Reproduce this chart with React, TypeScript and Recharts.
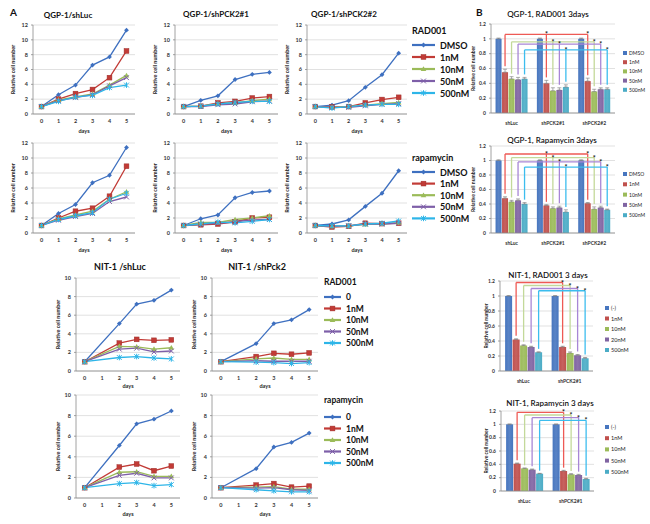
import React from "react";
import { LineChart, Line, BarChart, Bar, XAxis, YAxis, CartesianGrid, ErrorBar } from "recharts";

const FONT = "Lato, 'Open Sans', 'Liberation Sans', sans-serif";

const days = ["0", "1", "2", "3", "4", "5"];
const qgpDoses = ["DMSO", "1nM", "10nM", "50nM", "500nM"];
const nitDoses = ["0", "1nM", "10nM", "50nM", "500nM"];
const qgpTicks = [0, 2, 4, 6, 8, 10, 12];
const nitTicks = [0, 2, 4, 6, 8, 10];
const barTicks = [0, 0.2, 0.4, 0.6, 0.8, 1, 1.2];

// QGP-1 growth curves, rows = DMSO, 1nM, 10nM, 50nM, 500nM
const qgpLucRad = [
  [1, 2.6, 3.9, 6.6, 7.7, 11.3],
  [1, 2.0, 2.75, 3.3, 4.9, 8.5],
  [1, 1.9, 2.3, 2.7, 3.9, 5.2],
  [1, 1.8, 2.2, 2.6, 3.8, 4.9],
  [1, 1.7, 2.3, 2.5, 3.55, 3.9],
];
const qgpPck1Rad = [
  [1, 1.85, 2.45, 4.65, 5.35, 5.6],
  [1, 1.05, 1.5, 1.7, 2.15, 2.35],
  [1, 1.05, 1.35, 1.5, 1.8, 2.0],
  [1, 1.0, 1.25, 1.35, 1.65, 1.75],
  [1, 1.05, 1.35, 1.55, 1.7, 1.7],
];
const qgpPck2Rad = [
  [1, 1.2, 1.8, 3.6, 5.3, 8.2],
  [1, 0.95, 1.0, 1.5, 1.95, 2.25],
  [1, 0.9, 1.0, 1.2, 1.4, 1.55],
  [1, 0.9, 0.9, 1.1, 1.3, 1.4],
  [1, 0.8, 1.0, 1.2, 1.3, 1.3],
];
const qgpLucRapa = [
  [1, 2.6, 3.8, 6.7, 7.7, 11.4],
  [1, 2.0, 2.9, 3.3, 4.9, 8.9],
  [1, 1.9, 2.4, 2.9, 4.5, 5.5],
  [1, 1.7, 2.2, 2.6, 4.2, 4.8],
  [1, 1.8, 2.3, 2.7, 4.5, 5.3],
];
const qgpPck1Rapa = [
  [1, 1.9, 2.4, 4.7, 5.4, 5.6],
  [1, 1.1, 1.2, 1.5, 2.0, 2.1],
  [1, 1.4, 1.4, 1.8, 2.0, 2.3],
  [1, 1.2, 1.3, 1.5, 1.75, 1.8],
  [1, 1.2, 1.45, 1.35, 1.55, 1.8],
];
const qgpPck2Rapa = [
  [1, 1.2, 1.75, 3.55, 5.3, 8.3],
  [1, 0.8, 0.9, 1.3, 1.25, 1.3],
  [1, 0.9, 0.95, 1.15, 1.2, 1.35],
  [1, 0.9, 0.95, 1.2, 1.2, 1.3],
  [1, 0.95, 0.95, 1.2, 1.3, 1.6],
];

// NIT-1 growth curves (no day 1 count)
const nitLucRad = [
  [1, null, 5.1, 7.2, 7.6, 8.7],
  [1, null, 3.0, 3.4, 3.3, 3.35],
  [1, null, 2.65, 2.6, 2.35, 2.5],
  [1, null, 2.35, 2.45, 2.05, 2.15],
  [1, null, 1.45, 1.55, 1.4, 1.3],
];
const nitPckRad = [
  [1, null, 2.95, 5.1, 5.5, 6.6],
  [1, null, 1.55, 1.9, 1.8, 1.95],
  [1, null, 1.3, 1.4, 1.25, 1.25],
  [1, null, 1.1, 1.05, 1.05, 1.05],
  [1, null, 0.95, 0.9, 0.8, 0.9],
];
const nitLucRapa = [
  [1, null, 5.1, 7.2, 7.65, 8.45],
  [1, null, 3.0, 3.3, 2.65, 3.1],
  [1, null, 2.5, 2.55, 2.1, 2.1],
  [1, null, 2.2, 2.4, 1.95, 1.95],
  [1, null, 1.4, 1.5, 1.2, 1.3],
];
const nitPckRapa = [
  [1, null, 2.85, 4.95, 5.4, 6.3],
  [1, null, 1.25, 1.4, 1.05, 1.15],
  [1, null, 1.05, 1.1, 0.85, 0.85],
  [1, null, 0.95, 1.0, 0.8, 0.75],
  [1, null, 0.8, 0.7, 0.6, 0.6],
];

// 3-day bar panels, rows = dose, columns = cell line
const qgpCells = ["shLuc", "shPCK2#1", "shPCK2#2"];
const nitCells = ["shLuc", "shPCK2#1"];
const qgpRadBars = [[1, 1, 1], [0.55, 0.4, 0.43], [0.46, 0.3, 0.29], [0.45, 0.31, 0.32], [0.46, 0.35, 0.32]];
const qgpRadErr = [[0.01, 0.01, 0.01], [0.04, 0.04, 0.04], [0.03, 0.04, 0.03], [0.03, 0.03, 0.02], [0.02, 0.03, 0.02]];
const qgpRapaBars = [[1, 1, 1], [0.48, 0.38, 0.41], [0.43, 0.34, 0.33], [0.45, 0.35, 0.35], [0.4, 0.29, 0.32]];
const qgpRapaErr = [[0.01, 0.01, 0.01], [0.02, 0.01, 0.01], [0.02, 0.02, 0.03], [0.02, 0.02, 0.02], [0.02, 0.03, 0.01]];
const nitRadBars = [[1, 1], [0.42, 0.32], [0.34, 0.24], [0.32, 0.21], [0.25, 0.17]];
const nitRadErr = [[0.005, 0.005], [0.01, 0.01], [0.01, 0.015], [0.01, 0.01], [0.005, 0.01]];
const nitRapaBars = [[1, 1], [0.41, 0.3], [0.34, 0.25], [0.32, 0.24], [0.26, 0.18]];
const nitRapaErr = [[0.005, 0.005], [0.01, 0.01], [0.005, 0.01], [0.01, 0.01], [0.005, 0.01]];
const qgpBarLegend = ["DMSO", "1nM", "10nM", "50nM", "500nM"];
const nitRadLegend = ["(-)", "1nM", "10nM", "20nM", "500nM"];
const nitRapaLegend = ["(-)", "1nM", "10nM", "50nM", "500nM"];

// significance bracket heights (1nM..500nM)
const qgpRadLevels = [1.06, 0.96, 0.93, 0.85];
const qgpRapaLevels = [1.09, 1.04, 0.98, 0.91];
const nitRadLevels = [1.18, 1.14, 1.1, 1.07];
const nitRapaLevels = [1.18, 1.14, 1.1, 1.06];

const lineColors = ["#3E70C0", "#C23B36", "#9BBB59", "#7E5FA8", "#2DB5E8"];
const barColors = ["#4776BF", "#C0504D", "#9BBB59", "#8064A2", "#4BACC6"];
const bracketColors = ["#EE5A55", "#C3D99A", "#A886D6", "#3CBDEE"];

type Rect = { L: number; T: number; R: number; B: number };

function Marker({ kind, cx, cy, color }: { kind: number; cx: number; cy: number; color: string }) {
  const s = 2.4;
  if (kind === 0)
    return <polygon points={`${cx},${cy - s} ${cx + s},${cy} ${cx},${cy + s} ${cx - s},${cy}`} fill={color} />;
  if (kind === 1)
    return <rect x={cx - 2.4} y={cy - 2.4} width={4.8} height={4.8} fill={color} stroke="#9E2F2B" strokeWidth={0.5} />;
  if (kind === 2)
    return <polygon points={`${cx},${cy - 2.8} ${cx + 2.8},${cy + 2} ${cx - 2.8},${cy + 2}`} fill={color} />;
  if (kind === 3)
    return (
      <path d={`M${cx - s},${cy - s}L${cx + s},${cy + s}M${cx - s},${cy + s}L${cx + s},${cy - s}`} stroke={color} strokeWidth={1} />
    );
  return (
    <path
      d={`M${cx - s},${cy - s}L${cx + s},${cy + s}M${cx - s},${cy + s}L${cx + s},${cy - s}M${cx},${cy - 2.8}L${cx},${cy + 2.8}`}
      stroke={color}
      strokeWidth={1}
    />
  );
}

const tickStyle = { fontSize: 5.5, fill: "#333", fontWeight: 700, fontFamily: FONT };
const axisTitle = { fontSize: 5.5, fill: "#222", fontWeight: 700, fontFamily: FONT, textAnchor: "middle" as const };

function GrowthChart({ rect, series, yMax, ticks, wY, hX }: { rect: Rect; series: (number | null)[][]; yMax: number; ticks: number[]; wY: number; hX: number }) {
  const mTop = 4;
  const mRight = 3;
  const left = rect.L - wY;
  const top = rect.T - mTop;
  const width = rect.R - left + mRight;
  const height = rect.B + hX - top;
  const pad = (rect.R - rect.L) / 12;
  const rows = days.map((d, i) => {
    const r: any = { day: d };
    series.forEach((s, k) => (r["s" + k] = s[i]));
    return r;
  });
  return (
    <div style={{ position: "absolute", left, top }}>
      <LineChart width={width} height={height} data={rows} margin={{ top: mTop, right: mRight, left: 0, bottom: 0 }}>
        <CartesianGrid vertical={false} stroke="#D9D9D9" strokeWidth={0.8} />
        <XAxis
          dataKey="day"
          padding={{ left: pad, right: pad }}
          height={hX}
          interval={0}
          tick={tickStyle}
          tickLine={false}
          tickSize={3}
          tickMargin={2}
          axisLine={{ stroke: "#8C8C8C", strokeWidth: 0.8 }}
          label={{ value: "days", position: "insideBottom", offset: 1, style: axisTitle }}
        />
        <YAxis
          domain={[0, yMax]}
          ticks={ticks}
          width={wY}
          interval={0}
          tick={tickStyle}
          tickSize={2}
          tickLine={{ stroke: "#8C8C8C", strokeWidth: 0.8 }}
          tickMargin={3}
          axisLine={{ stroke: "#8C8C8C", strokeWidth: 0.8 }}
          label={{ value: "Relative cell number", angle: -90, position: "insideLeft", offset: 6, style: axisTitle }}
        />
        {series.map((_, k) => (
          <Line
            key={k}
            dataKey={"s" + k}
            stroke={lineColors[k]}
            strokeWidth={1.3}
            connectNulls
            isAnimationActive={false}
            dot={(p: any) =>
              p.cy == null ? <g key={p.index} /> : <Marker key={p.index} kind={k} cx={p.cx} cy={p.cy} color={lineColors[k]} />
            }
          />
        ))}
      </LineChart>
    </div>
  );
}

function DoseBars({
  rect, cats, values, errs, levels, wY, hX, yLabelX, gap,
}: {
  rect: Rect; cats: string[]; values: number[][]; errs: number[][]; levels: number[]; wY: number; hX: number; yLabelX: number; gap: any;
}) {
  const mTop = 2;
  const mRight = 2;
  const left = rect.L - wY;
  const top = rect.T - mTop;
  const width = rect.R - left + mRight;
  const height = rect.B + hX - top;
  const band = (rect.R - rect.L) / cats.length;
  const rows = cats.map((c, i) => {
    const r: any = { cat: c };
    values.forEach((v, k) => {
      r["v" + k] = v[i];
      r["e" + k] = [0, errs[k][i]];
    });
    return r;
  });
  const makeShape = (k: number) => (p: any) => {
    const { x, y, width: bw, height: bh, index, payload } = p;
    const v = payload["v" + k];
    const e = payload["e" + k][1];
    const base = y + bh;
    const ppu = bh / v;
    const cx = x + bw / 2;
    const parts = [<rect key="r" x={x} y={y} width={bw} height={bh} fill={`url(#bg${k})`} />];
    if (k > 0) {
      const col = bracketColors[k - 1];
      const lvY = base - levels[k - 1] * ppu;
      const endY = base - (v + e + 0.04) * ppu;
      parts.push(<line key="v" x1={cx} x2={cx} y1={lvY} y2={endY} stroke={col} strokeWidth={1.3} />);
      if (index === 0) {
        parts.push(<line key="h" x1={cx} x2={cx + band * (cats.length - 1)} y1={lvY} y2={lvY} stroke={col} strokeWidth={1.3} />);
      } else {
        parts.push(
          <text key="s" x={cx} y={lvY + 3} fontSize={7} fontWeight={700} textAnchor="middle" fill="#111" fontFamily={FONT}>*</text>
        );
      }
    }
    return <g>{parts}</g>;
  };
  return (
    <div style={{ position: "absolute", left, top }}>
      <BarChart width={width} height={height} data={rows} barCategoryGap={gap} barGap={0.5} margin={{ top: mTop, right: mRight, left: 0, bottom: 0 }}>
        <defs>
          {barColors.map((c, k) => (
            <linearGradient key={k} id={"bg" + k} x1="0" y1="0" x2="1" y2="0">
              <stop offset="0%" stopColor={c} stopOpacity={1} />
              <stop offset="50%" stopColor={c} stopOpacity={0.9} />
              <stop offset="100%" stopColor={c} stopOpacity={1} />
            </linearGradient>
          ))}
        </defs>
        <CartesianGrid vertical={false} stroke="#D9D9D9" strokeWidth={0.8} />
        <XAxis
          dataKey="cat"
          height={hX}
          interval={0}
          tick={{ ...tickStyle, fontSize: 5 }}
          tickLine={false}
          tickSize={4}
          tickMargin={4}
          axisLine={{ stroke: "#8C8C8C", strokeWidth: 0.8 }}
        />
        <YAxis
          domain={[0, 1.2]}
          ticks={barTicks}
          width={wY}
          interval={0}
          tick={{ ...tickStyle, fontSize: 5 }}
          tickSize={2}
          tickLine={{ stroke: "#8C8C8C", strokeWidth: 0.8 }}
          tickMargin={3}
          axisLine={{ stroke: "#8C8C8C", strokeWidth: 0.8 }}
          label={{ value: "Relative cell number", angle: -90, position: "insideLeft", offset: yLabelX - left, style: { ...axisTitle, fontSize: 5 } }}
        />
        {values.map((_, k) => (
          <Bar key={k} dataKey={"v" + k} fill={barColors[k]} isAnimationActive={false} shape={makeShape(k)}>
            <ErrorBar dataKey={"e" + k} width={2} stroke="#777" strokeWidth={0.6} direction="y" />
          </Bar>
        ))}
      </BarChart>
    </div>
  );
}

function LineLegend({ x, y, title, labels, step, first, len, fs }: { x: number; y: number; title: string; labels: string[]; step: number; first: number; len: number; fs: number }) {
  return (
    <g fontFamily={FONT}>
      <text x={x} y={y} fontSize={fs} fontWeight={700} dominantBaseline="central" fill="#111">{title}</text>
      {labels.map((l, k) => {
        const yy = y + first + k * step;
        return (
          <g key={k}>
            <line x1={x} x2={x + len} y1={yy} y2={yy} stroke={lineColors[k]} strokeWidth={2.2} />
            <Marker kind={k} cx={x + len / 2} cy={yy} color={lineColors[k]} />
            <text x={x + len + 5} y={yy} fontSize={fs} fontWeight={700} dominantBaseline="central" fill="#111">{l}</text>
          </g>
        );
      })}
    </g>
  );
}

function BarLegend({ x, y, labels, step, fs }: { x: number; y: number; labels: string[]; step: number; fs: number }) {
  return (
    <g fontFamily={FONT}>
      {labels.map((l, k) => (
        <g key={k}>
          <rect x={x} y={y + k * step - 2} width={4} height={4} fill={barColors[k]} />
          <text x={x + 6} y={y + k * step} fontSize={fs} dominantBaseline="central" fill="#222">{l}</text>
        </g>
      ))}
    </g>
  );
}

const T = ({ x, y, s, fs, w = 700, a = "middle" }: { x: number; y: number; s: string; fs: number; w?: number; a?: "middle" | "start" }) => (
  <text x={x} y={y} fontSize={fs} fontWeight={w} textAnchor={a} dominantBaseline="central" fill="#111" fontFamily={FONT}>{s}</text>
);

export default function App() {
  return (
    <div style={{ position: "absolute", left: 0, top: 0, width: 650, height: 524, background: "#fff", overflow: "hidden", fontFamily: FONT }}>
      <GrowthChart rect={{ L: 33, T: 25, R: 135, B: 114 }} series={qgpLucRad} yMax={12} ticks={qgpTicks} wY={26} hX={20} />
      <GrowthChart rect={{ L: 175, T: 25, R: 278, B: 114 }} series={qgpPck1Rad} yMax={12} ticks={qgpTicks} wY={26} hX={20} />
      <GrowthChart rect={{ L: 307, T: 25, R: 407, B: 114 }} series={qgpPck2Rad} yMax={12} ticks={qgpTicks} wY={26} hX={20} />
      <GrowthChart rect={{ L: 33, T: 143, R: 135, B: 233 }} series={qgpLucRapa} yMax={12} ticks={qgpTicks} wY={26} hX={20} />
      <GrowthChart rect={{ L: 175, T: 143, R: 278, B: 233 }} series={qgpPck1Rapa} yMax={12} ticks={qgpTicks} wY={26} hX={20} />
      <GrowthChart rect={{ L: 307, T: 143, R: 407, B: 233 }} series={qgpPck2Rapa} yMax={12} ticks={qgpTicks} wY={26} hX={20} />

      <GrowthChart rect={{ L: 76, T: 278, R: 180, B: 371 }} series={nitLucRad} yMax={10} ticks={nitTicks} wY={24} hX={18} />
      <GrowthChart rect={{ L: 212, T: 278, R: 318, B: 371 }} series={nitPckRad} yMax={10} ticks={nitTicks} wY={24} hX={18} />
      <GrowthChart rect={{ L: 76, T: 395, R: 180, B: 498 }} series={nitLucRapa} yMax={10} ticks={nitTicks} wY={24} hX={19} />
      <GrowthChart rect={{ L: 212, T: 395, R: 318, B: 498 }} series={nitPckRapa} yMax={10} ticks={nitTicks} wY={24} hX={19} />

      <DoseBars rect={{ L: 491, T: 24, R: 615, B: 113 }} cats={qgpCells} values={qgpRadBars} errs={qgpRadErr} levels={qgpRadLevels} wY={25} hX={16} yLabelX={473} gap="11%" />
      <DoseBars rect={{ L: 491, T: 146, R: 615, B: 233 }} cats={qgpCells} values={qgpRapaBars} errs={qgpRapaErr} levels={qgpRapaLevels} wY={25} hX={16} yLabelX={473} gap="11%" />
      <DoseBars rect={{ L: 500, T: 281, R: 593, B: 371 }} cats={nitCells} values={nitRadBars} errs={nitRadErr} levels={nitRadLevels} wY={24} hX={14} yLabelX={486} gap="11%" />
      <DoseBars rect={{ L: 501, T: 411, R: 594, B: 491 }} cats={nitCells} values={nitRapaBars} errs={nitRapaErr} levels={nitRapaLevels} wY={24} hX={14} yLabelX={486} gap="11%" />

      <svg width={650} height={524} style={{ position: "absolute", left: 0, top: 0, pointerEvents: "none" }}>
        <T x={10} y={12} s="A" fs={10} a="start" />
        <T x={68} y={15} s="QGP-1/shLuc" fs={8} />
        <T x={216} y={14} s="QGP-1/shPCK2#1" fs={8} />
        <T x={344} y={14} s="QGP-1/shPCK2#2" fs={8} />
        <T x={476} y={12} s="B" fs={10} a="start" />
        <T x={548} y={14} s="QGP-1, RAD001 3days" fs={8} w={600} />
        <T x={552} y={140} s="QGP-1, Rapamycin 3days" fs={8} w={600} />
        <T x={548} y={275} s="NIT-1, RAD001 3 days" fs={8} w={600} />
        <T x={550} y={403} s="NIT-1, Rapamycin 3 days" fs={8} w={600} />
        <T x={120} y={266} s="NIT-1 /shLuc" fs={9} />
        <T x={257} y={266} s="NIT-1 /shPck2" fs={9} />

        <LineLegend x={412} y={30} title="RAD001" labels={qgpDoses} first={15} step={12} len={23} fs={9} />
        <LineLegend x={412} y={157} title="rapamycin" labels={qgpDoses} first={15} step={11.6} len={23} fs={9} />
        <LineLegend x={324} y={282} title="RAD001" labels={nitDoses} first={15} step={11.5} len={17} fs={8.5} />
        <LineLegend x={324} y={400} title="rapamycin" labels={nitDoses} first={17} step={11.5} len={17} fs={8.5} />

        <BarLegend x={623} y={53} labels={qgpBarLegend} step={9.2} fs={5} />
        <BarLegend x={623} y={174} labels={qgpBarLegend} step={10.3} fs={5} />
        <BarLegend x={605} y={308} labels={nitRadLegend} step={10.5} fs={5.5} />
        <BarLegend x={605} y={427} labels={nitRapaLegend} step={11.2} fs={5.5} />
      </svg>
    </div>
  );
}
